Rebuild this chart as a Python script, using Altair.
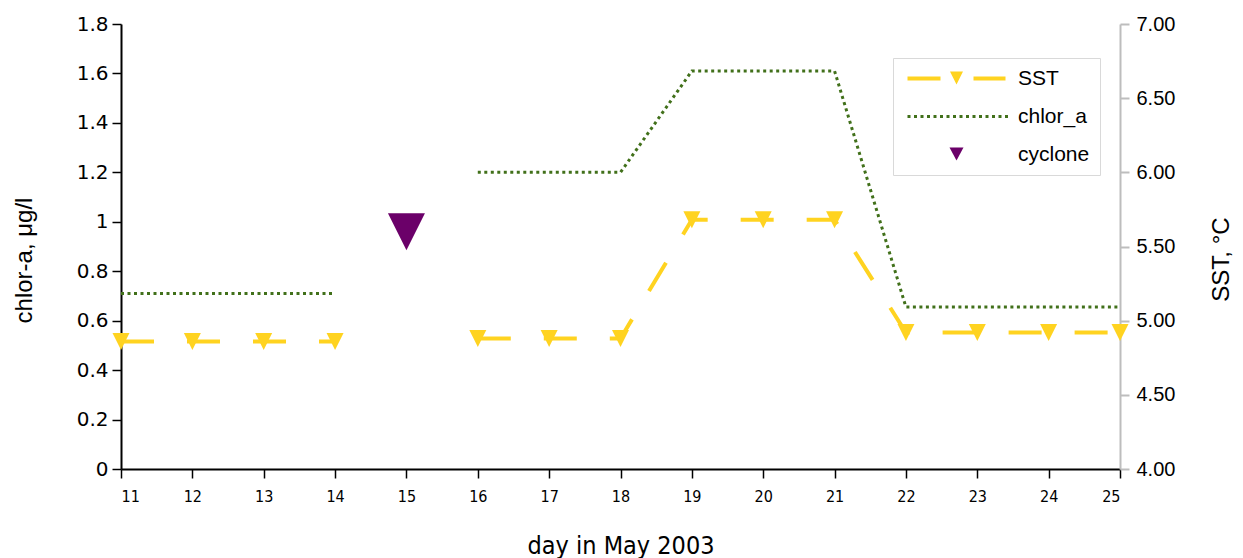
import altair as alt
import pandas as pd

# ---- data ----
days = list(range(11, 26))
chlor_a = [0.71, 0.71, 0.71, 0.71, None, 1.20, 1.20, 1.20, 1.61, 1.61, 1.61, 0.655, 0.655, 0.655, 0.655]
sst = [4.86, 4.86, 4.86, 4.86, None, 4.88, 4.88, 4.88, 5.68, 5.68, 5.68, 4.92, 4.92, 4.92, 4.92]
cyclone_days = [15]
cyclone_vals = [0.96]
series = ["SST", "chlor_a", "cyclone"]
colors = ["#FFD320", "#41701A", "#6B0069"]
chlor_ticks = [0, 0.2, 0.4, 0.6, 0.8, 1.0, 1.2, 1.4, 1.6, 1.8]
sst_ticks = [4.0, 4.5, 5.0, 5.5, 6.0, 6.5, 7.0]


def segments(vals):
    rows, seg = [], 0
    for d, v in zip(days, vals):
        if v is None:
            seg += 1
            continue
        rows.append({"day": d, "value": v, "seg": seg})
    return pd.DataFrame(rows)


chlor_df = segments(chlor_a)
sst_df = segments(sst)
cyc_df = pd.DataFrame({"day": cyclone_days, "value": cyclone_vals})
legend_df = pd.DataFrame({"series": series, "day": [11] * 3, "value": [0.0] * 3})

# ---- symbols ----
TRI = "M-1,-1L1,-1L0,1Z"
sst_sym = "M-4.9,-0.2H-1.6V0.2H-4.9Z M-0.65,-0.7H0.65L0,0.6Z M1.7,-0.2H4.9V0.2H1.7Z"
dots = []
for i in range(16):
    x0 = -4.9 + i * 0.65
    dots.append(f"M{x0:.2f},-0.15h0.3v0.3h-0.3Z")
chlor_sym = " ".join(dots)
cyc_sym = "M-0.7,-0.7H0.7L0,0.6Z"

pad_label = "datum.label + '\u00a0\u00a0'"

x_enc = alt.X(
    "day:Q",
    scale=alt.Scale(domain=[11, 25], nice=False, zero=False),
    axis=alt.Axis(
        values=days, format="d", title="day in May 2003", grid=False,
        domainColor="black", domainWidth=2, tickColor="black", tickWidth=1.5, tickSize=9,
        labelFont="DejaVu Sans Condensed", labelFontSize=16, labelPadding=10, labelColor="black",
        titleFont="DejaVu Sans Condensed", titleFontSize=25, titleFontWeight="normal",
        titleColor="black", titlePadding=29,
    ),
)

left_scale = alt.Scale(domain=[0, 1.8], nice=False, zero=True)
left_axis = alt.Axis(
    values=chlor_ticks, format="~g", grid=False, title="chlor-a, μg/l",
    domainColor="black", domainWidth=2, tickColor="black", tickWidth=1.5, tickSize=9,
    labelFont="DejaVu Sans", labelFontSize=20, labelPadding=4, labelColor="black",
    titleFont="Liberation Sans", titleFontSize=24, titleFontWeight="normal", titleColor="black",
    titleX=-97, titleY=236, titleAngle=270, titleAlign="center", titleBaseline="middle",
)

chlor_line = alt.Chart(chlor_df).mark_line(
    color=colors[1], strokeWidth=3, strokeDash=[3, 3.5], strokeCap="butt"
).encode(
    x=x_enc,
    y=alt.Y("value:Q", scale=left_scale, axis=left_axis),
    detail="seg:N",
)

cyc_pt = alt.Chart(cyc_df).mark_point(
    filled=True, shape=TRI, size=1369, color=colors[2], opacity=1
).encode(x="day:Q", y=alt.Y("value:Q", scale=left_scale))

legend_pts = alt.Chart(legend_df).mark_point(filled=True, opacity=0).encode(
    x="day:Q",
    y=alt.Y("value:Q", scale=left_scale),
    color=alt.Color(
        "series:N",
        scale=alt.Scale(domain=series, range=colors),
        legend=alt.Legend(title=None, labelExpr=pad_label),
    ),
    shape=alt.Shape(
        "series:N",
        scale=alt.Scale(domain=series, range=[sst_sym, chlor_sym, cyc_sym]),
        legend=alt.Legend(title=None, labelExpr=pad_label),
    ),
)

right_scale = alt.Scale(domain=[4, 7], nice=False, zero=False)
right_axis = alt.Axis(
    orient="right", values=sst_ticks, format=".2f", grid=False, title="SST, °C",
    domainColor="#BDBDBD", domainWidth=2, tickColor="#BDBDBD", tickWidth=2, tickSize=9,
    labelFont="Liberation Sans", labelFontSize=20, labelPadding=7, labelColor="black",
    titleFont="Liberation Sans", titleFontSize=24, titleFontWeight="normal", titleColor="black",
    titleX=101, titleY=235, titleAngle=270, titleAlign="center", titleBaseline="middle",
)

sst_line = alt.Chart(sst_df).mark_line(
    color=colors[0], strokeWidth=4, strokeDash=[33, 33], strokeCap="butt"
).encode(
    x="day:Q",
    y=alt.Y("value:Q", scale=right_scale, axis=right_axis),
    detail="seg:N",
)

sst_pts = alt.Chart(sst_df).mark_point(
    filled=True, shape=TRI, size=289, color=colors[0], opacity=1
).encode(x="day:Q", y=alt.Y("value:Q", scale=right_scale))

left = alt.layer(chlor_line, cyc_pt, legend_pts)
right = alt.layer(sst_line, sst_pts)

chart = alt.layer(left, right).resolve_scale(y="independent").properties(
    width=999,
    height=445,
    autosize=alt.AutoSizeParams(type="none"),
    padding={"left": 113, "top": 16, "right": 115, "bottom": 89},
).configure_view(stroke=None).configure_legend(
    orient="none", legendX=772, legendY=34, padding=10,
    fillColor="white", strokeColor="#D9D9D9", cornerRadius=0,
    symbolSize=400, symbolOffset=43, symbolStrokeWidth=0, symbolOpacity=1,
    labelFont="Liberation Sans", labelFontSize=21, labelColor="black", labelOffset=51,
    rowPadding=16,
)

chart.save("out.html", embed_options={"renderer": "svg", "actions": False})
